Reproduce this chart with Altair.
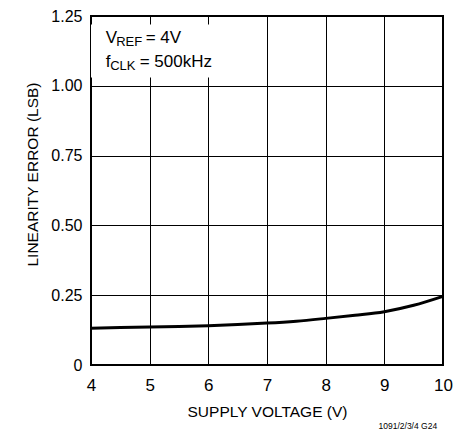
import altair as alt
import pandas as pd

# Data
supply_v = [4, 4.5, 5, 5.5, 6, 6.5, 7, 7.5, 8, 8.5, 9, 9.5, 10]
lin_err = [0.132, 0.134, 0.136, 0.138, 0.141, 0.145, 0.150, 0.157, 0.167, 0.178, 0.191, 0.214, 0.246]
x_ticks = [4, 5, 6, 7, 8, 9, 10]
y_ticks = [0, 0.25, 0.5, 0.75, 1.0, 1.25]

FONT = "Liberation Sans"

df = pd.DataFrame({"v": supply_v, "e": lin_err})

x_scale = alt.Scale(domain=[4, 10], nice=False, zero=False)
y_scale = alt.Scale(domain=[0, 1.25], nice=False)

x_axis = alt.Axis(
    values=x_ticks, format="d", title="SUPPLY VOLTAGE (V)", grid=True, domain=False, ticks=False,
    labelPadding=12, labelFontSize=17, labelFont=FONT, labelColor="black",
    titleFont=FONT, titleFontSize=15.5, titleFontWeight="normal", titleColor="black",
    titleBaseline="alphabetic", titleY=51, labelFlush=False,
)
y_axis = alt.Axis(
    values=y_ticks, title="LINEARITY ERROR (LSB)", grid=True, domain=False, ticks=False,
    labelPadding=9, labelFontSize=16, labelFont=FONT, labelColor="black",
    labelExpr="datum.value == 0 ? '0' : format(datum.value, '.2f')",
    titleFont=FONT, titleFontSize=15.5, titleFontWeight="normal", titleColor="black",
    titleBaseline="alphabetic", titleX=-54, titleY=158, titleAlign="center", titleAngle=-90,
    labelFlush=False,
)

line = alt.Chart(df).mark_line(color="black", strokeWidth=3, interpolate="monotone").encode(
    x=alt.X("v:Q", scale=x_scale, axis=x_axis),
    y=alt.Y("e:Q", scale=y_scale, axis=y_axis),
)

box_df = pd.DataFrame({"x1": [4.0], "x2": [6.3], "y1": [1.03], "y2": [1.22]})
box = alt.Chart(box_df).mark_rect(color="white").encode(
    x="x1:Q", x2="x2:Q", y="y1:Q", y2="y2:Q"
)

ann_main = pd.DataFrame({"x": [4.25, 4.25], "y": [1.153, 1.068], "t": ["V", "f"]})
ann_sub = pd.DataFrame({"x": [4.25, 4.25], "y": [1.153, 1.068], "t": ["REF", "CLK"]})
ann_rest = pd.DataFrame({"x": [4.25, 4.25], "y": [1.153, 1.068], "t": ["= 4V", "= 500kHz"]})

t_main = alt.Chart(ann_main).mark_text(align="left", baseline="alphabetic", font=FONT, fontSize=17, color="black").encode(
    x="x:Q", y="y:Q", text="t:N"
)
t_sub1 = alt.Chart(ann_sub.iloc[[0]]).mark_text(align="left", baseline="alphabetic", font=FONT, fontSize=13, dx=10.5, dy=3, color="black").encode(
    x="x:Q", y="y:Q", text="t:N"
)
t_sub2 = alt.Chart(ann_sub.iloc[[1]]).mark_text(align="left", baseline="alphabetic", font=FONT, fontSize=13, dx=4.5, dy=3, color="black").encode(
    x="x:Q", y="y:Q", text="t:N"
)
t_rest1 = alt.Chart(ann_rest.iloc[[0]]).mark_text(align="left", baseline="alphabetic", font=FONT, fontSize=17, dx=40, color="black").encode(
    x="x:Q", y="y:Q", text="t:N"
)
t_rest2 = alt.Chart(ann_rest.iloc[[1]]).mark_text(align="left", baseline="alphabetic", font=FONT, fontSize=17, dx=34, color="black").encode(
    x="x:Q", y="y:Q", text="t:N"
)

foot_df = pd.DataFrame({"x": [9.9], "y": [-0.228], "t": ["1091/2/3/4 G24"]})
foot = alt.Chart(foot_df).mark_text(align="right", baseline="alphabetic", font=FONT, fontSize=8.5, color="black", clip=False).encode(
    x="x:Q", y="y:Q", text="t:N"
)

chart = alt.layer(line, box, t_main, t_sub1, t_sub2, t_rest1, t_rest2, foot).properties(
    width=352, height=349,
    autosize=alt.AutoSizeParams(type="none"),
    padding={"left": 83, "top": 8, "right": 15, "bottom": 66},
).configure_view(
    stroke="black", strokeWidth=2
).configure_axis(
    gridColor="black", gridOpacity=1, gridWidth=1
)

chart.save("out.html", embed_options={"renderer": "svg", "actions": False})
